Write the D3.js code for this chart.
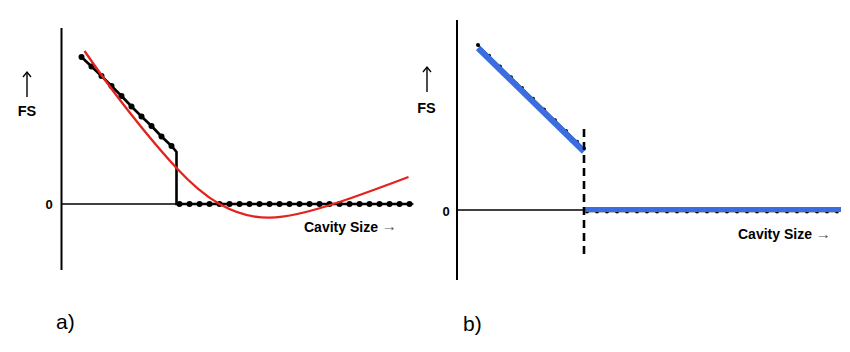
<!DOCTYPE html>
<html>
<head>
<meta charset="utf-8">
<script src="https://cdn.jsdelivr.net/npm/d3@7/dist/d3.min.js"></script>
<style>
  html, body { margin: 0; padding: 0; background: #fff; }
  svg { display: block; font-family: "Liberation Sans", Arial, sans-serif; }
</style>
</head>
<body>
<svg id="chart" width="850" height="352"></svg>
<script>
// ---------- Panel a data ----------
const aSlopeX  = [2, 3, 4, 5, 6, 7, 8, 9, 10, 11];
const aSlopeFS = [14.7, 13.75, 12.8, 11.8, 10.8, 9.75, 8.75, 7.8, 6.75, 5.8];
const aStepX = 11.5;
const aStepTopFS = 5.2;
const aFlatX  = [11.8, 12.8, 13.8, 14.8, 15.8, 16.8, 17.8, 18.8, 19.8, 20.8, 21.8, 22.8,
                 23.8, 24.8, 25.8, 26.8, 27.8, 28.8, 29.8, 30.8, 31.8, 32.8, 33.8, 34.8];
const aFlatFS = [0, 0, 0, 0, 0, 0, 0, 0, 0, 0, 0, 0, 0, 0, 0, 0, 0, 0, 0, 0, 0, 0, 0, 0];
const aRedX  = [2.3, 6.0, 11.5, 15.8, 20.8, 27.5, 34.7];
const aRedFS = [15.3, 10.2, 3.6, 0, -1.37, 0.1, 2.7];

// ---------- Panel b data ----------
const bBlueSlopeX  = [2.1, 12.7];
const bBlueSlopeFS = [16.2, 5.85];
const bBlueFlatX   = [12.7, 38.4];
const bBlueFlatFS  = [0.05, 0.05];
const bDotSlopeX  = [2.1, 3.2, 4.3, 5.4, 6.5, 7.6, 8.7, 9.8, 10.9, 12.0, 12.7];
const bDotSlopeFS = [16.5, 15.43, 14.35, 13.28, 12.2, 11.13, 10.06, 8.98, 7.9, 6.83, 6.15];
const bDotFlatX   = [13, 14, 15, 16, 17, 18, 19, 20, 21, 22, 23, 24, 25, 26, 27, 28, 29,
                     30, 31, 32, 33, 34, 35, 36, 37, 38];
const bDotFlatFS  = [-0.15, -0.15, -0.15, -0.15, -0.15, -0.15, -0.15, -0.15, -0.15, -0.15, -0.15, -0.15, -0.15,
                     -0.15, -0.15, -0.15, -0.15, -0.15, -0.15, -0.15, -0.15, -0.15, -0.15, -0.15, -0.15, -0.15];
const bCutX = 12.7;
const bCutRange = [8.1, -4.5];

// ---------- Labels ----------
const yLabel = "FS";
const xLabel = "Cavity Size";
const zeroLabel = "0";
const panelLabels = ["a)", "b)"];

const RED = "#e2231e";
const BLUE = "#3a6ee0";

const svg = d3.select("#chart");
const zip = (xs, ys) => xs.map((x, i) => [x, ys[i]]);

function upArrow(g, x, yTop, yBot) {
  g.append("line").attr("x1", x).attr("x2", x).attr("y1", yTop + 1).attr("y2", yBot)
    .attr("stroke", "#000").attr("stroke-width", 1.4);
  g.append("path").attr("d", `M${x - 4},${yTop + 5} L${x},${yTop} L${x + 4},${yTop + 5}`)
    .attr("fill", "none").attr("stroke", "#000").attr("stroke-width", 1.3);
}

function xTitle(g, x0, yb) {
  const t = g.append("text").attr("x", x0).attr("y", yb)
    .attr("font-size", 14).attr("font-weight", "bold");
  t.append("tspan").text(xLabel + " ");
  t.append("tspan").attr("font-weight", "normal").attr("fill", "#555")
    .attr("font-size", 15).attr("dy", -0.5).text("→");
}

// ================= Panel a =================
{
  const x = d3.scaleLinear().domain([0, 35.2]).range([61.5, 413.5]);
  const y = d3.scaleLinear().domain([-6.6, 17.6]).range([270, 28]);
  const g = svg.append("g");
  const line = d3.line().x(d => x(d[0])).y(d => y(d[1]));

  g.append("line").attr("x1", x(0)).attr("x2", x(0)).attr("y1", y(17.6)).attr("y2", y(-6.6))
    .attr("stroke", "#000").attr("stroke-width", 2);
  g.append("line").attr("x1", x(0)).attr("x2", x(35.2)).attr("y1", y(0)).attr("y2", y(0))
    .attr("stroke", "#000").attr("stroke-width", 1.5);

  const blackPts = zip(aSlopeX, aSlopeFS)
    .concat([[aStepX, aStepTopFS], [aStepX, 0]])
    .concat(zip(aFlatX, aFlatFS));
  g.append("path").attr("d", line(blackPts)).attr("fill", "none")
    .attr("stroke", "#000").attr("stroke-width", 2.6);
  g.append("g").selectAll("circle").data(zip(aSlopeX, aSlopeFS).concat(zip(aFlatX, aFlatFS))).join("circle")
    .attr("cx", d => x(d[0])).attr("cy", d => y(d[1])).attr("r", 3).attr("fill", "#000");

  g.append("path").attr("d", d3.line().x(d => x(d[0])).y(d => y(d[1]))
      .curve(d3.curveNatural)(zip(aRedX, aRedFS)))
    .attr("fill", "none").attr("stroke", RED).attr("stroke-width", 2.3);

  upArrow(g, 27, 72, 97);
  g.append("text").attr("x", 27).attr("y", 115.5).attr("text-anchor", "middle")
    .attr("font-size", 14.5).attr("font-weight", "bold").text(yLabel);
  g.append("text").attr("x", 49).attr("y", 209).attr("text-anchor", "middle")
    .attr("font-size", 13).attr("font-weight", "bold").text(zeroLabel);
  xTitle(g, 304, 231.5);
  g.append("text").attr("x", 56).attr("y", 329).attr("font-size", 21).text(panelLabels[0]);
}

// ================= Panel b =================
{
  const x = d3.scaleLinear().domain([0, 38.4]).range([457, 841]);
  const y = d3.scaleLinear().domain([-7, 19]).range([280, 20]);
  const g = svg.append("g");
  const line = d3.line().x(d => x(d[0])).y(d => y(d[1]));

  g.append("line").attr("x1", x(0)).attr("x2", x(0)).attr("y1", y(19)).attr("y2", y(-7))
    .attr("stroke", "#000").attr("stroke-width", 2);
  g.append("line").attr("x1", x(0)).attr("x2", x(bCutX)).attr("y1", y(0)).attr("y2", y(0))
    .attr("stroke", "#000").attr("stroke-width", 1.5);

  [zip(bDotSlopeX, bDotSlopeFS), zip(bDotFlatX, bDotFlatFS)].forEach(pts => {
    g.append("path").attr("d", line(pts)).attr("fill", "none")
      .attr("stroke", "#000").attr("stroke-width", 1.5);
    g.append("g").selectAll("circle").data(pts).join("circle")
      .attr("cx", d => x(d[0])).attr("cy", d => y(d[1])).attr("r", 2).attr("fill", "#000");
  });

  g.append("path").attr("d", line(zip(bBlueSlopeX, bBlueSlopeFS))).attr("fill", "none")
    .attr("stroke", BLUE).attr("stroke-width", 6);
  g.append("path").attr("d", line(zip(bBlueFlatX, bBlueFlatFS))).attr("fill", "none")
    .attr("stroke", BLUE).attr("stroke-width", 5);

  g.append("line").attr("x1", x(bCutX)).attr("x2", x(bCutX))
    .attr("y1", y(bCutRange[0])).attr("y2", y(bCutRange[1]))
    .attr("stroke", "#000").attr("stroke-width", 2.6).attr("stroke-dasharray", "8,5");

  upArrow(g, 427, 67, 92);
  g.append("text").attr("x", 426.5).attr("y", 112.5).attr("text-anchor", "middle")
    .attr("font-size", 14.5).attr("font-weight", "bold").text(yLabel);
  g.append("text").attr("x", 446).attr("y", 216).attr("text-anchor", "middle")
    .attr("font-size", 13).attr("font-weight", "bold").text(zeroLabel);
  xTitle(g, 738, 239);
  g.append("text").attr("x", 463).attr("y", 331).attr("font-size", 21).text(panelLabels[1]);
}
</script>
</body>
</html>
